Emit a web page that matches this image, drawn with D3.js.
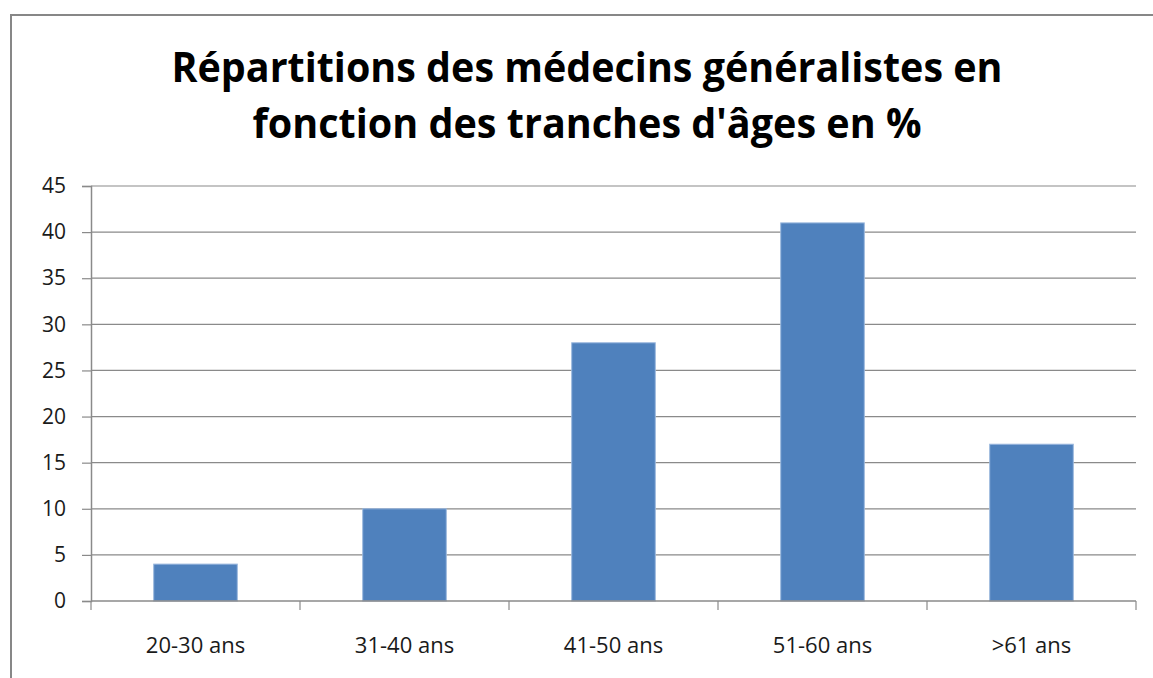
<!DOCTYPE html>
<html>
<head>
<meta charset="utf-8">
<script src="https://cdn.jsdelivr.net/npm/d3@7"></script>
<style>
body { margin: 0; background: #fff; }
svg { display: block; }
</style>
</head>
<body>
<svg id="chart" width="1153" height="678"></svg>
<script>
// data
var categories = ["20-30 ans", "31-40 ans", "41-50 ans", "51-60 ans", ">61 ans"];
var values = [4, 10, 28, 41, 17];
var yTicks = [0, 5, 10, 15, 20, 25, 30, 35, 40, 45];
var titleLines = ["Répartitions des médecins généralistes en", "fonction des tranches d'âges en %"];

var svg = d3.select("#chart"),
    WIDTH = 1153,
    HEIGHT = 678,
    MARGINS = { top: 186, right: 17, bottom: 77, left: 91 },
    FONT = "'Open Sans', 'Liberation Sans', sans-serif";

// outer frame (runs off the right and bottom edges)
svg.append("rect")
    .attr("x", 11).attr("y", 15)
    .attr("width", 1160).attr("height", 700)
    .attr("fill", "#fff")
    .attr("stroke", "#878787")
    .attr("stroke-width", 2);

var xScale = d3.scaleBand()
    .domain(categories)
    .range([MARGINS.left, WIDTH - MARGINS.right])
    .paddingInner(0.6)
    .paddingOuter(0.3);

var xBand = d3.scaleBand()
    .domain(categories)
    .range([MARGINS.left, WIDTH - MARGINS.right]);

var yScale = d3.scaleLinear()
    .domain([0, 45])
    .range([HEIGHT - MARGINS.bottom, MARGINS.top]);

// gridlines
svg.append("g")
    .selectAll("line")
    .data(yTicks.filter(function (d) { return d > 0; }))
    .enter().append("line")
    .attr("x1", MARGINS.left)
    .attr("x2", WIDTH - MARGINS.right)
    .attr("y1", function (d) { return yScale(d); })
    .attr("y2", function (d) { return yScale(d); })
    .attr("stroke", "#8a8a8a")
    .attr("stroke-width", 1.2);

// bars
svg.append("g")
    .selectAll("rect")
    .data(values)
    .enter().append("rect")
    .attr("x", function (d, i) { return xScale(categories[i]); })
    .attr("y", function (d) { return yScale(d); })
    .attr("width", xScale.bandwidth())
    .attr("height", function (d) { return yScale(0) - yScale(d); })
    .attr("fill", "#4f81bd")
    .attr("stroke", "#9bb8de")
    .attr("stroke-width", 1);

// y axis
var yAxis = d3.axisLeft(yScale)
    .tickValues(yTicks)
    .tickSize(9)
    .tickPadding(16);

var gy = svg.append("g")
    .attr("transform", "translate(" + MARGINS.left + ",0)")
    .call(yAxis);
gy.select(".domain").attr("stroke", "#8a8a8a").attr("stroke-width", 1.5);
gy.selectAll(".tick line").attr("stroke", "#8a8a8a").attr("stroke-width", 1.2);
gy.selectAll(".tick text")
    .attr("font-family", FONT)
    .attr("font-size", 21)
    .attr("fill", "#1a1a1a");

// x axis: ticks at band boundaries
var boundaries = categories.map(function (c) { return xBand(c); })
    .concat([WIDTH - MARGINS.right]);

var gx = svg.append("g");
gx.append("line")
    .attr("x1", MARGINS.left).attr("x2", WIDTH - MARGINS.right)
    .attr("y1", yScale(0)).attr("y2", yScale(0))
    .attr("stroke", "#8a8a8a").attr("stroke-width", 1.5);
gx.selectAll("line.tk")
    .data(boundaries)
    .enter().append("line")
    .attr("class", "tk")
    .attr("x1", function (d) { return d; }).attr("x2", function (d) { return d; })
    .attr("y1", yScale(0)).attr("y2", yScale(0) + 9)
    .attr("stroke", "#8a8a8a").attr("stroke-width", 1.2);
gx.selectAll("text")
    .data(categories)
    .enter().append("text")
    .attr("x", function (d) { return xBand(d) + xBand.bandwidth() / 2; })
    .attr("y", 653)
    .attr("text-anchor", "middle")
    .attr("font-family", FONT)
    .attr("font-size", 22)
    .attr("fill", "#1a1a1a")
    .text(function (d) { return d; });

// title
var titleWidths = [831, 669];
svg.append("g")
    .selectAll("text")
    .data(titleLines)
    .enter().append("text")
    .attr("x", 587)
    .attr("y", function (d, i) { return 82 + i * 56; })
    .attr("text-anchor", "middle")
    .attr("font-family", FONT)
    .attr("font-weight", "bold")
    .attr("font-size", 41)
    .attr("textLength", function (d, i) { return titleWidths[i]; })
    .attr("lengthAdjust", "spacingAndGlyphs")
    .attr("fill", "#000")
    .text(function (d) { return d; });
</script>
</body>
</html>
